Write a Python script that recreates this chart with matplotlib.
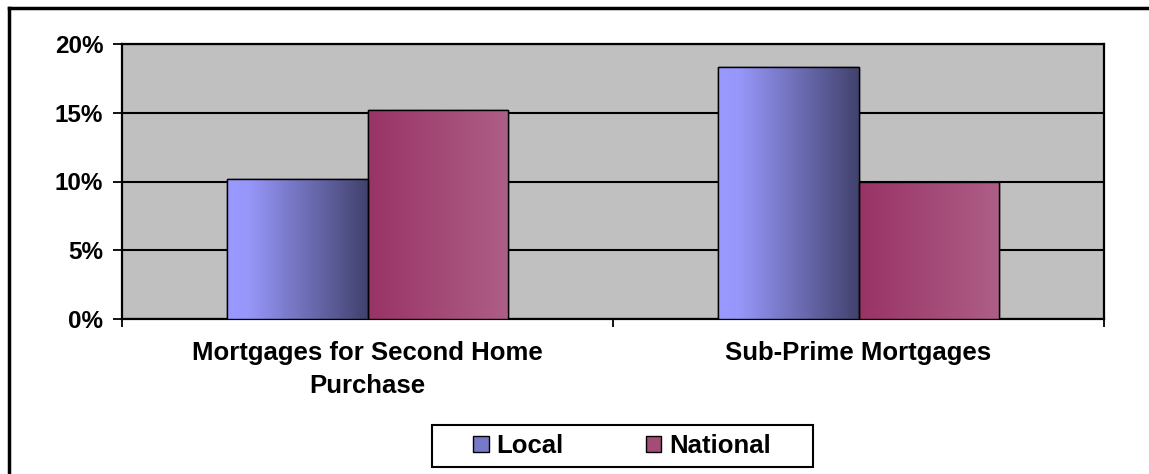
import numpy as np
import matplotlib
matplotlib.use("Agg")
import matplotlib.pyplot as plt
from matplotlib.colors import LinearSegmentedColormap
from matplotlib.patches import Rectangle, Patch
from matplotlib.lines import Line2D

plt.rcParams["font.family"] = ["Liberation Sans", "DejaVu Sans"]
plt.rcParams["font.weight"] = "bold"

# data
categories = ["Mortgages for Second Home\nPurchase", "Sub-Prime Mortgages"]
series_names = ["Local", "National"]
local_vals = [0.102, 0.183]
national_vals = [0.152, 0.100]
y_ticks = [0.0, 0.05, 0.10, 0.15, 0.20]
y_labels = ["0%", "5%", "10%", "15%", "20%"]

# horizontal gradients for the bars
local_cmap = LinearSegmentedColormap.from_list(
    "local", [(0.0, "#9999FF"), (0.15, "#9797FA"), (1.0, "#42426E")])
national_cmap = LinearSegmentedColormap.from_list(
    "national", [(0.0, "#993366"), (1.0, "#AD5F87")])

fig = plt.figure(figsize=(11.49, 4.74), dpi=100)
ax = fig.add_axes([122 / 1149, 1 - 319 / 474, (1104 - 122) / 1149, (319 - 44) / 474])
ax.set_facecolor("#C0C0C0")

x = np.arange(len(categories))
bw = 0.286
bar_kwargs = {"edgecolor": "black", "linewidth": 1.0, "zorder": 3}
b1 = ax.bar(x - bw / 2, local_vals, bw, facecolor="#7A7ACC", label="Local", **bar_kwargs)
b2 = ax.bar(x + bw / 2, national_vals, bw, facecolor="#A24C76", label="National", **bar_kwargs)

grad = np.linspace(0, 1, 256).reshape(1, -1)
for bars, cmap in ((b1, local_cmap), (b2, national_cmap)):
    for p in bars:
        x0, y0 = p.get_x(), p.get_y()
        w, h = p.get_width(), p.get_height()
        im = ax.imshow(grad, cmap=cmap, aspect="auto", extent=[x0, x0 + w, y0, y0 + h],
                       zorder=3.5, interpolation="bilinear")
        im.set_clip_path(p)
        # redraw outline on top
        ax.add_patch(Rectangle((x0, y0), w, h, fill=False, edgecolor="black",
                               linewidth=1.0, zorder=4))

ax.set_xlim(-0.5, len(categories) - 0.5)
ax.set_ylim(0, 0.20)

# gridlines
ax.set_yticks(y_ticks)
ax.set_yticklabels(y_labels, fontsize=17.5, fontweight="bold")
ax.yaxis.grid(True, color="black", linewidth=1.5, zorder=1)
ax.set_axisbelow(True)
ax.tick_params(axis="y", direction="out", length=6.5, width=1.3, pad=7)

# x ticks at category boundaries, labels at centers
ax.set_xticks(np.arange(len(categories) + 1) - 0.5)
ax.set_xticklabels([])
ax.tick_params(axis="x", which="major", direction="out", length=6, width=1.3)
ax.set_xticks(x, minor=True)
ax.set_xticklabels(categories, minor=True, fontsize=18.5, fontweight="bold", linespacing=1.45)
ax.tick_params(axis="x", which="minor", length=0, pad=16)

for s in ax.spines.values():
    s.set_linewidth(1.6)
    s.set_color("black")

# legend
handles = [Patch(facecolor="#7878C8", edgecolor="black", linewidth=1.0),
           Patch(facecolor="#A24C76", edgecolor="black", linewidth=1.0)]
leg = fig.legend(handles, series_names, loc="center", bbox_to_anchor=(622 / 1149, 1 - 446 / 474),
                 ncol=2, frameon=False, fontsize=18.5, handlelength=0.6, handleheight=0.6,
                 handletextpad=0.3, columnspacing=3.2)
for t in leg.get_texts():
    t.set_fontweight("bold")
fig.add_artist(Rectangle((432 / 1149, 1 - 467 / 474), (813 - 432) / 1149, 42 / 474,
                         transform=fig.transFigure, fill=False, edgecolor="black", linewidth=1.5))

# outer chart frame (top and left edges)
fig.add_artist(Line2D([9 / 1149, 1.0], [1 - 8 / 474, 1 - 8 / 474], transform=fig.transFigure,
                      color="black", linewidth=2.5))
fig.add_artist(Line2D([9 / 1149, 9 / 1149], [0.0, 1 - 8 / 474], transform=fig.transFigure,
                      color="black", linewidth=2.5))

fig.savefig("out.png", dpi=100)
